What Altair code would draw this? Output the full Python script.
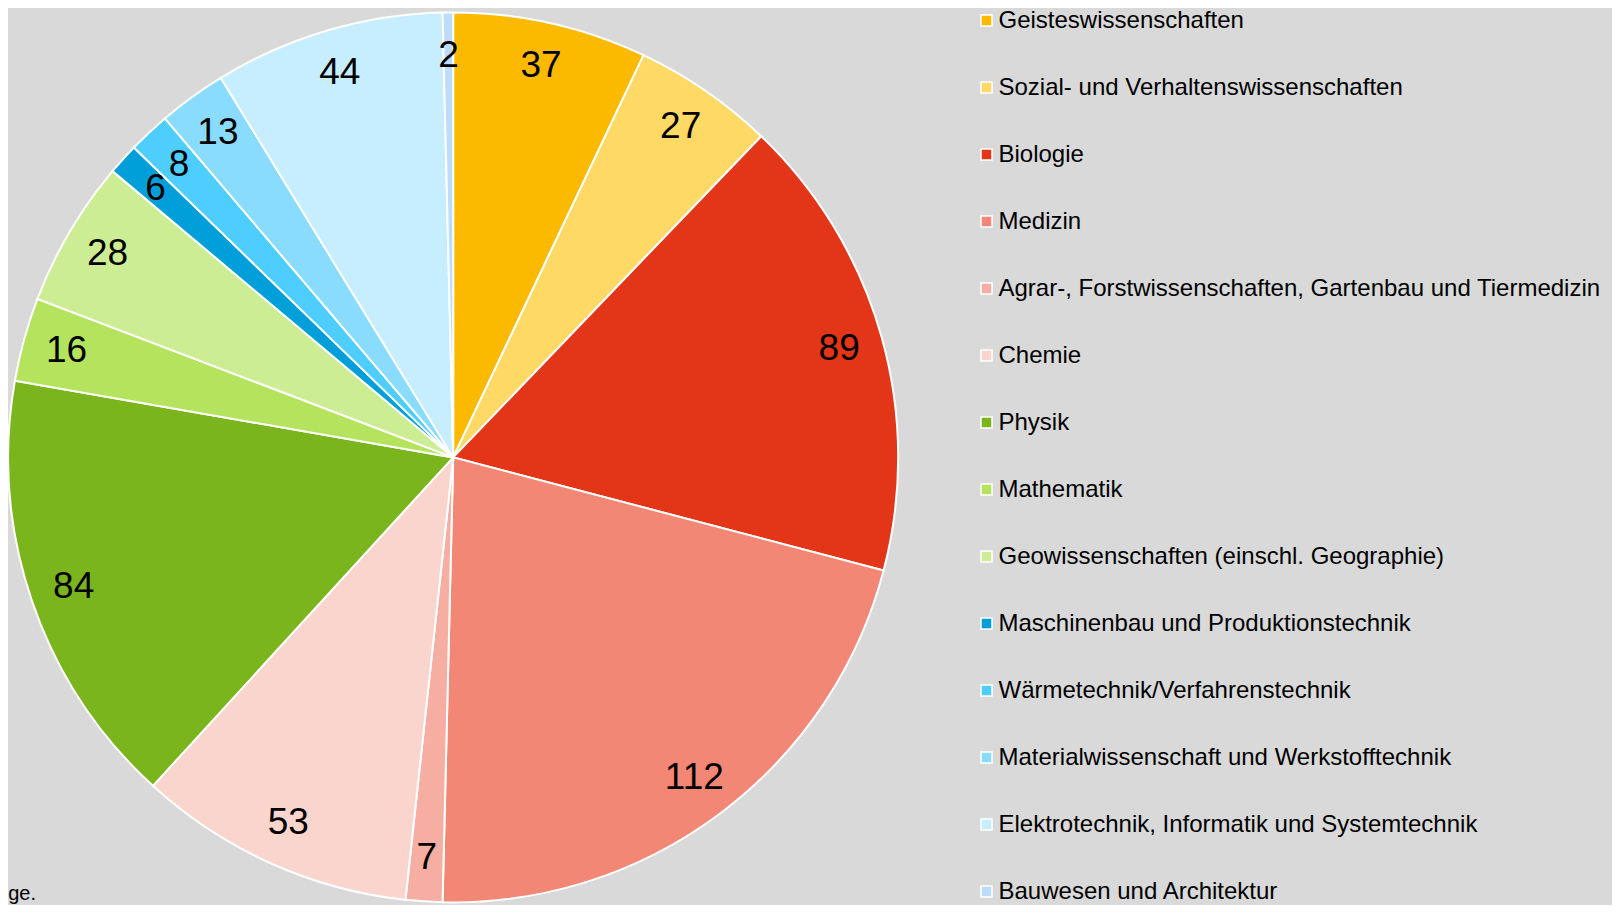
import altair as alt
import pandas as pd

categories = [
    "Geisteswissenschaften",
    "Sozial- und Verhaltenswissenschaften",
    "Biologie",
    "Medizin",
    "Agrar-, Forstwissenschaften, Gartenbau und Tiermedizin",
    "Chemie",
    "Physik",
    "Mathematik",
    "Geowissenschaften (einschl. Geographie)",
    "Maschinenbau und Produktionstechnik",
    "Wärmetechnik/Verfahrenstechnik",
    "Materialwissenschaft und Werkstofftechnik",
    "Elektrotechnik, Informatik und Systemtechnik",
    "Bauwesen und Architektur",
]
values = [37, 27, 89, 112, 7, 53, 84, 16, 28, 6, 8, 13, 44, 2]
colors = [
    "#FBBA00", "#FFD966", "#E33518", "#F28775", "#F6AEA3", "#F9D5CE",
    "#7AB51D", "#B4E35E", "#CDED95", "#009FDA", "#4ECDFF", "#8ADCFF",
    "#C6EEFF", "#BDDCFA",
]
footnote = ["ge."]

df = pd.DataFrame({"Fach": categories, "Anzahl": values, "idx": list(range(len(categories)))})

CX, CY = 445.2, 449.4
FONT = "Liberation Sans"

base = alt.Chart(df).encode(
    theta=alt.Theta("Anzahl:Q", stack=True),
    order=alt.Order("idx:Q", sort="ascending"),
)

pie = base.mark_arc(radius=445, stroke="white", strokeWidth=2).encode(
    x=alt.value(CX),
    y=alt.value(CY),
    color=alt.Color(
        "Fach:N",
        scale=alt.Scale(domain=categories, range=colors),
        legend=alt.Legend(
            title=None,
            orient="none",
            legendX=966.5,
            legendY=0.5,
            symbolType="square",
            symbolSize=121,
            symbolStrokeColor="white",
            symbolStrokeWidth=1.5,
            symbolOpacity=1,
            labelFontSize=24,
            labelFont=FONT,
            labelColor="black",
            labelLimit=1000,
            labelOffset=0,
            rowPadding=43.0,
            padding=0,
        ),
    ),
)

labels = base.mark_text(
    radius=401, fontSize=37, font=FONT, color="black", align="center", baseline="middle"
).encode(
    x=alt.value(CX),
    y=alt.value(CY),
    text=alt.Text("Anzahl:Q"),
)

foot = alt.Chart(pd.DataFrame({"t": footnote})).mark_text(
    align="right", baseline="middle", fontSize=20, font=FONT, color="black"
).encode(x=alt.value(28), y=alt.value(886), text="t:N")

chart = (
    alt.layer(pie, labels, foot)
    .properties(width=1604, height=897, autosize=alt.AutoSizeParams(type="none"), padding=0)
    .configure(background="#D9D9D9")
    .configure_view(stroke=None)
)

chart.save("out.html", embed_options={"renderer": "svg", "actions": False})
